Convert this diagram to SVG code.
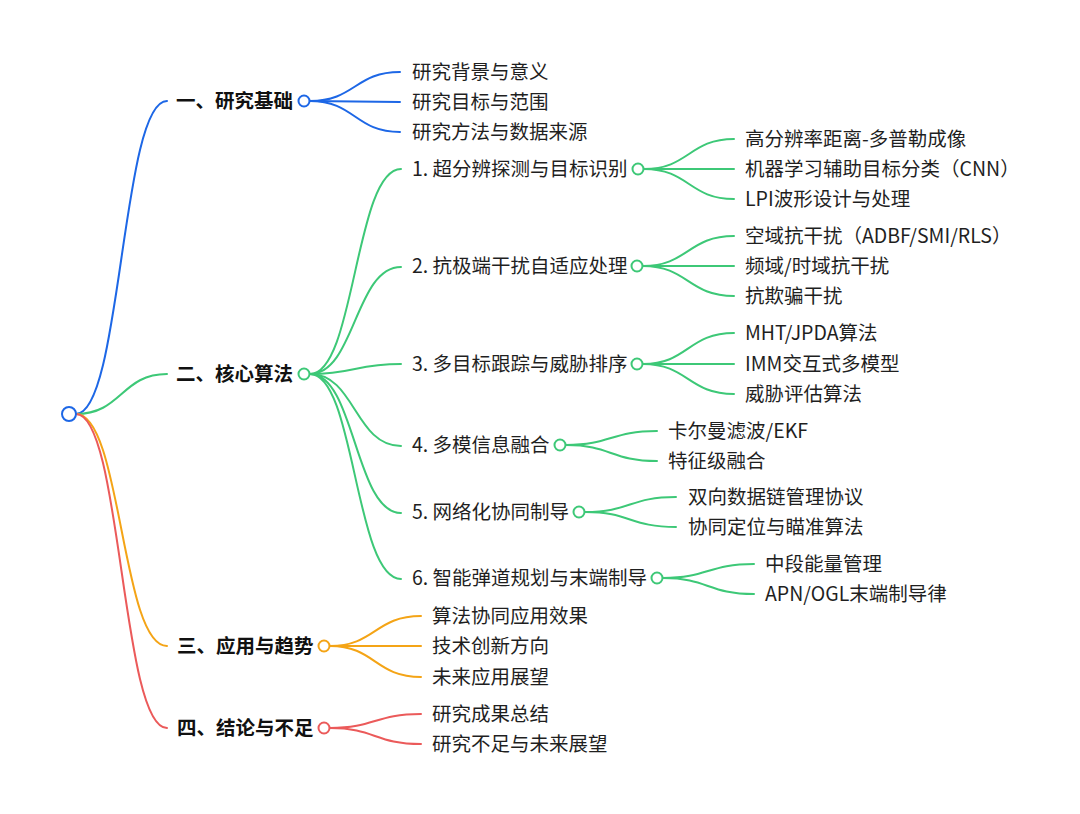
<svg xmlns="http://www.w3.org/2000/svg" width="1080" height="814" viewBox="0 0 1080 814">
<style>
text{font-family:"Noto Sans CJK SC","Noto Sans",sans-serif;font-size:19.5px;fill:#1f1f1f}
.b{font-weight:bold;fill:#111}
path{fill:none;stroke-width:2;stroke-linecap:round}
.bl{stroke:#1d67e6}.gr{stroke:#3dc877}.or{stroke:#f4a416}.rd{stroke:#eb5a5a}
circle{fill:#fff;stroke-width:2}
</style>
<rect width="1080" height="814" fill="#fff"/>
<g id="connectors">
<path class="bl" d="M76,414 C121.5,414 121.5,101 167,101"/>
<path class="gr" d="M76,414 C121.5,414 121.5,374 167,374"/>
<path class="or" d="M76,414 C121.5,414 121.5,646 167,646"/>
<path class="rd" d="M76,414 C121.5,414 121.5,728 167,728"/>
<path class="bl" d="M310,101 C355,101 355,72 400,72"/>
<path class="bl" d="M310,101 L400,102"/>
<path class="bl" d="M310,101 C355,101 355,132 400,132"/>
<path class="gr" d="M310,374 C355,374 355,169 401,169"/>
<path class="gr" d="M310,374 C355,374 355,267 401,267"/>
<path class="gr" d="M310,374 C355,374 355,364 401,364"/>
<path class="gr" d="M310,374 C355,374 355,446 401,446"/>
<path class="gr" d="M310,374 C355,374 355,513 401,513"/>
<path class="gr" d="M310,374 C355,374 355,579 401,579"/>
<path class="gr" d="M644,169 C689,169 689,139 734,139"/>
<path class="gr" d="M644,169 L734,169"/>
<path class="gr" d="M644,169 C689,169 689,199 734,199"/>
<path class="gr" d="M643,266 C688,266 688,236 734,236"/>
<path class="gr" d="M643,266 L734,266"/>
<path class="gr" d="M643,266 C688,266 688,296 734,296"/>
<path class="gr" d="M643,364 C688,364 688,333 734,333"/>
<path class="gr" d="M643,364 L734,364"/>
<path class="gr" d="M643,364 C688,364 688,394 734,394"/>
<path class="gr" d="M566,445 C611,445 611,431 657,431"/>
<path class="gr" d="M566,445 C611,445 611,461 657,461"/>
<path class="gr" d="M585,512 C630,512 630,497 676,497"/>
<path class="gr" d="M585,512 C630,512 630,527 676,527"/>
<path class="gr" d="M663,578 C708,578 708,564 754,564"/>
<path class="gr" d="M663,578 C708,578 708,594 754,594"/>
<path class="or" d="M330,646 C375,646 375,616 421,616"/>
<path class="or" d="M330,646 L421,646"/>
<path class="or" d="M330,646 C375,646 375,677 421,677"/>
<path class="rd" d="M330,728 C375,728 375,714 421,714"/>
<path class="rd" d="M330,728 C375,728 375,744 421,744"/>
</g>
<g id="root"><circle cx="69" cy="414" r="7" stroke="#1d67e6"/></g>
<g id="n1"><text class="b" x="176" y="108">一、研究基础</text><circle cx="304" cy="101" r="5.5" stroke="#1d67e6"/></g>
<g id="n1a"><text x="412" y="79">研究背景与意义</text></g>
<g id="n1b"><text x="412" y="109">研究目标与范围</text></g>
<g id="n1c"><text x="412" y="139">研究方法与数据来源</text></g>
<g id="n2"><text class="b" x="176" y="381">二、核心算法</text><circle cx="304" cy="374" r="5.5" stroke="#3dc877"/></g>
<g id="n21"><text x="412" y="176">1. 超分辨探测与目标识别</text><circle cx="638" cy="169" r="5.5" stroke="#3dc877"/></g>
<g id="n21a"><text x="745" y="146">高分辨率距离-多普勒成像</text></g>
<g id="n21b"><text x="745" y="176">机器学习辅助目标分类（CNN）</text></g>
<g id="n21c"><text x="745" y="206">LPI波形设计与处理</text></g>
<g id="n22"><text x="412" y="273">2. 抗极端干扰自适应处理</text><circle cx="637" cy="266" r="5.5" stroke="#3dc877"/></g>
<g id="n22a"><text x="745" y="243">空域抗干扰（ADBF/SMI/RLS）</text></g>
<g id="n22b"><text x="745" y="273">频域/时域抗干扰</text></g>
<g id="n22c"><text x="745" y="303">抗欺骗干扰</text></g>
<g id="n23"><text x="412" y="371">3. 多目标跟踪与威胁排序</text><circle cx="637" cy="364" r="5.5" stroke="#3dc877"/></g>
<g id="n23a"><text x="745" y="340">MHT/JPDA算法</text></g>
<g id="n23b"><text x="745" y="371">IMM交互式多模型</text></g>
<g id="n23c"><text x="745" y="401">威胁评估算法</text></g>
<g id="n24"><text x="412" y="452">4. 多模信息融合</text><circle cx="560" cy="445" r="5.5" stroke="#3dc877"/></g>
<g id="n24a"><text x="668" y="438">卡尔曼滤波/EKF</text></g>
<g id="n24b"><text x="668" y="468">特征级融合</text></g>
<g id="n25"><text x="412" y="519">5. 网络化协同制导</text><circle cx="579" cy="512" r="5.5" stroke="#3dc877"/></g>
<g id="n25a"><text x="688" y="504">双向数据链管理协议</text></g>
<g id="n25b"><text x="688" y="534">协同定位与瞄准算法</text></g>
<g id="n26"><text x="412" y="585">6. 智能弹道规划与末端制导</text><circle cx="657" cy="578" r="5.5" stroke="#3dc877"/></g>
<g id="n26a"><text x="765" y="571">中段能量管理</text></g>
<g id="n26b"><text x="765" y="601">APN/OGL末端制导律</text></g>
<g id="n3"><text class="b" x="177" y="653">三、应用与趋势</text><circle cx="324" cy="646" r="5.5" stroke="#f4a416"/></g>
<g id="n3a"><text x="432" y="623">算法协同应用效果</text></g>
<g id="n3b"><text x="432" y="653">技术创新方向</text></g>
<g id="n3c"><text x="432" y="684">未来应用展望</text></g>
<g id="n4"><text class="b" x="177" y="735">四、结论与不足</text><circle cx="324" cy="728" r="5.5" stroke="#eb5a5a"/></g>
<g id="n4a"><text x="432" y="721">研究成果总结</text></g>
<g id="n4b"><text x="432" y="751">研究不足与未来展望</text></g>
</svg>
